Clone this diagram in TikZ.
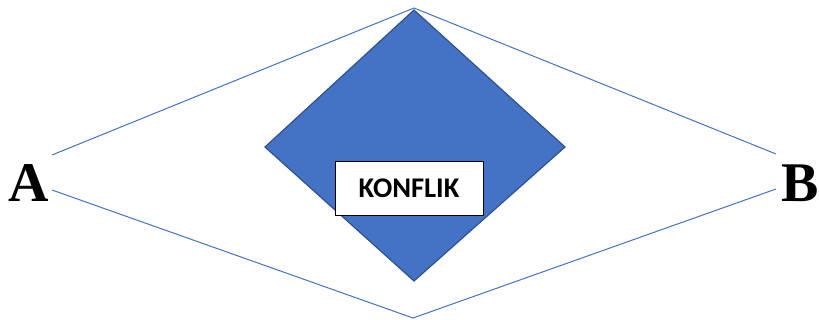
\documentclass[tikz,border=0pt]{standalone}
\usepackage{fontspec}
\setmainfont{Liberation Serif}
\newfontfamily\labelfont{Carlito}
\definecolor{accentblue}{HTML}{4472C4}
\definecolor{edgeblue}{HTML}{2F528F}
\tikzset{
  link/.style={draw=accentblue, line width=1pt},
  party/.style={font=\bfseries\fontsize{56}{56}\selectfont, inner sep=0pt, anchor=base},
  tag/.style={draw=black, line width=0.9pt, fill=white, font=\labelfont\bfseries\fontsize{28.5}{28.5}\selectfont,
    minimum width=148pt, minimum height=54pt, inner sep=0pt}
}
\begin{document}
\begin{tikzpicture}[x=1pt, y=-1pt]
  \useasboundingbox (0,0) rectangle (819,320);
  % the square turned on its corner
  \coordinate (dTop) at (414,10);
  \coordinate (dLeft) at (265,147);
  \coordinate (dRight) at (565,147);
  \coordinate (dBottom) at (414,281);
  \fill[accentblue, draw=edgeblue, line width=1.2pt] (dTop) -- (dRight) -- (dBottom) -- (dLeft) -- cycle;
  % the two sides
  \node[party] (a) at (29,202) {A};
  \node[party] (b) at (800,202) {B};
  % end points of the lines
  \coordinate (aUp) at (52,155);
  \coordinate (aDown) at (52,190);
  \coordinate (bUp) at (776,154);
  \coordinate (bDown) at (776,189);
  \coordinate (peak) at (414,8);
  \coordinate (valley) at (413,318);
  \draw[link] (aUp) -- (peak) -- (bUp);
  \draw[link] (aDown) -- (valley) -- (bDown);
  % label box
  \node[tag] (k) at (409,188) {KONFLIK};
\end{tikzpicture}
\end{document}
